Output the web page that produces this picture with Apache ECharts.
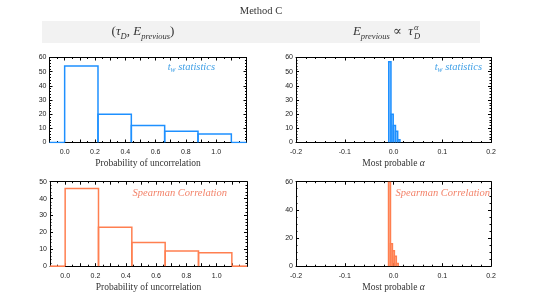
<!DOCTYPE html>
<html><head><meta charset="utf-8">
<script src="https://cdn.jsdelivr.net/npm/echarts@6/dist/echarts.min.js"></script>
<style>html,body{margin:0;padding:0;background:#fff}#c{width:543px;height:305px}</style>
</head><body><div id="c"></div>
<script>
// ---- data ----
const probEdges = [0, 0.22, 0.44, 0.66, 0.88, 1.10];
const twProbCounts = [54, 20, 12, 8, 6];
const spProbCounts = [46, 23, 14, 9, 8];
const probRange = [-0.1, 1.2];

const twAlphaEdges = [-0.0098, -0.0052, -0.0006, 0.0040, 0.0086, 0.0132];
const twAlphaCounts = [57, 20, 12, 8, 2];
const spAlphaEdges = [-0.0102, -0.0062, -0.0022, 0.0018, 0.0058, 0.0098];
const spAlphaCounts = [60, 16, 11, 7, 2];
const alphaRange = [-0.2, 0.2];

const blue = '#1E90FF', blueText = '#3F9FE6', blueFill = 'rgba(30,144,255,0.45)';
const orange = '#FF7F50', orangeText = '#F3836A', orangeFill = 'rgba(255,127,80,0.5)';
const serif = "'Liberation Serif', 'DejaVu Serif', serif";
const sans = "'Liberation Sans', 'DejaVu Sans', sans-serif";

function bins(edges, counts) {
  return counts.map((c, i) => [edges[i], edges[i + 1], c]);
}

const grids = [
  {left: 49.5, top: 57.5, width: 197, height: 85},
  {left: 296, top: 57.5, width: 195, height: 85},
  {left: 50, top: 181.7, width: 197, height: 84.5},
  {left: 296, top: 181.7, width: 195, height: 84.5}
];
grids.forEach(g => g.outerBoundsMode = 'none');

const axLine = {show: true, onZero: false, lineStyle: {color: '#000', width: 1}};
function xAx(gi, kind, pos) {
  const isProb = kind === 'prob';
  const a = {
    type: 'value', gridIndex: gi, position: pos,
    min: isProb ? probRange[0] : alphaRange[0],
    max: isProb ? probRange[1] : alphaRange[1],
    interval: 0.1,
    axisLine: axLine,
    axisTick: {show: true, inside: true, length: 3, lineStyle: {color: '#000'}},
    minorTick: {show: true, splitNumber: isProb ? 2 : 5, length: 1.5, lineStyle: {color: '#000'}},
    splitLine: {show: false},
    axisLabel: {show: pos === 'bottom', fontSize: 7, fontFamily: sans, color: '#222', margin: 6,
      formatter: v => {
        if (isProb) {
          const k = Math.round(v * 10);
          if (k < 0 || k > 10 || k % 2 !== 0) return '';
          return (k / 10).toFixed(1);
        }
        return (Math.round(v * 10) / 10).toFixed(1);
      }},
    showMinLabel: true, showMaxLabel: true
  };
  if (pos === 'bottom') {
    a.name = isProb ? 'Probability of uncorrelation' : '{n|Most probable }{i|α}';
    a.nameLocation = 'middle';
    a.nameGap = 16;
    a.nameTextStyle = {fontSize: 9.5, fontFamily: serif, color: '#333',
      rich: {n: {fontSize: 9.5, fontFamily: serif, color: '#333'},
             i: {fontSize: 9.5, fontFamily: serif, fontStyle: 'italic', color: '#333'}}};
  }
  return a;
}
function yAx(gi, max, interval, minor, pos) {
  return {
    type: 'value', gridIndex: gi, position: pos, min: 0, max: max, interval: interval,
    axisLine: axLine,
    axisTick: {show: true, inside: true, length: 3, lineStyle: {color: '#000'}},
    minorTick: {show: true, splitNumber: minor, length: 1.5, lineStyle: {color: '#000'}},
    splitLine: {show: false},
    axisLabel: {show: pos === 'left', fontSize: 7, fontFamily: sans, color: '#222', margin: 3}
  };
}

const xAxis = [
  xAx(0, 'prob', 'bottom'), xAx(0, 'prob', 'top'),
  xAx(1, 'alpha', 'bottom'), xAx(1, 'alpha', 'top'),
  xAx(2, 'prob', 'bottom'), xAx(2, 'prob', 'top'),
  xAx(3, 'alpha', 'bottom'), xAx(3, 'alpha', 'top')
];
const yAxis = [
  yAx(0, 60, 10, 5, 'left'), yAx(0, 60, 10, 5, 'right'),
  yAx(1, 60, 10, 5, 'left'), yAx(1, 60, 10, 5, 'right'),
  yAx(2, 50, 10, 5, 'left'), yAx(2, 50, 10, 5, 'right'),
  yAx(3, 60, 20, 4, 'left'), yAx(3, 60, 20, 4, 'right')
];

function histSeries(idx, data, color, fillColor) {
  return {
    type: 'custom', xAxisIndex: idx * 2, yAxisIndex: idx * 2, data: data, clip: true, z: 5,
    encode: {x: [0, 1], y: 2}, animation: false, silent: true,
    renderItem: (params, api) => {
      const x0 = api.value(0), x1 = api.value(1), c = api.value(2);
      const pts = [api.coord([x0, 0]), api.coord([x0, c]), api.coord([x1, c]), api.coord([x1, 0])];
      const children = [];
      if (fillColor) children.push({type: 'polygon', shape: {points: pts}, style: {fill: fillColor}});
      children.push({type: 'polyline', shape: {points: pts}, style: {stroke: color, lineWidth: 1.5, fill: null}});
      return {type: 'group', children: children};
    }
  };
}
function baseSeries(idx, from, to, color) {
  return {type: 'line', xAxisIndex: idx * 2, yAxisIndex: idx * 2, data: [[from, 0], [to, 0]],
    showSymbol: false, symbol: 'none', animation: false, silent: true, z: 5,
    lineStyle: {color: color, width: 1.6}};
}
const series = [
  histSeries(0, bins(probEdges, twProbCounts), blue, null),
  baseSeries(0, probRange[0], probEdges[0], blue),
  baseSeries(0, probEdges[probEdges.length - 1], probRange[1], blue),
  histSeries(1, bins(twAlphaEdges, twAlphaCounts), blue, blueFill),
  histSeries(2, bins(probEdges, spProbCounts), orange, null),
  baseSeries(2, probRange[0], probEdges[0], orange),
  baseSeries(2, probEdges[probEdges.length - 1], probRange[1], orange),
  histSeries(3, bins(spAlphaEdges, spAlphaCounts), orange, orangeFill)
];

function inset(x, y, parts, color) {
  return {type: 'text', x: x, y: y, style: {
    text: parts, align: 'right', verticalAlign: 'middle',
    rich: {
      i: {fontSize: 10.5, fontFamily: serif, fontStyle: 'italic', fill: color, lineHeight: 14},
      s: {fontSize: 7.5, fontFamily: serif, fontStyle: 'italic', fill: color, verticalAlign: 'bottom', lineHeight: 10}
    }}};
}
const hdrRich = {
  n: {fontSize: 13, fontFamily: serif, fontStyle: 'italic', fill: '#333', lineHeight: 19},
  r: {fontSize: 13, fontFamily: serif, fill: '#333', lineHeight: 19},
  s: {fontSize: 8.5, fontFamily: serif, fontStyle: 'italic', fill: '#333', verticalAlign: 'bottom', lineHeight: 12}
};

const graphic = [
  {type: 'rect', shape: {x: 42, y: 21, width: 438, height: 22}, style: {fill: '#f2f2f2'}, z: -1},
  {type: 'text', x: 261, y: 11, style: {text: 'Method C', fontSize: 10.5, fontFamily: serif, fill: '#333', align: 'center', verticalAlign: 'middle'}},
  {type: 'text', x: 143, y: 32, style: {text: '{r|(}{n|τ}{s|D}{r|, }{n|E}{s|previous}{r|)}', align: 'center', verticalAlign: 'middle', rich: hdrRich}},
  {type: 'text', x: 413, y: 32, style: {text: '{n|E}{s|previous}{r| ∝  }{n|τ}', align: 'right', verticalAlign: 'middle', rich: hdrRich}},
  {type: 'text', x: 414, y: 28, style: {text: 'α', fontSize: 8.5, fontFamily: serif, fontStyle: 'italic', fill: '#333', align: 'left', verticalAlign: 'middle'}},
  {type: 'text', x: 414, y: 37, style: {text: 'D', fontSize: 8.5, fontFamily: serif, fontStyle: 'italic', fill: '#333', align: 'left', verticalAlign: 'middle'}},
  inset(215, 67, '{i|t}{s|w}{i| statistics}', blueText),
  inset(482, 67, '{i|t}{s|w}{i| statistics}', blueText),
  inset(227, 193, '{i|Spearman Correlation}', orangeText),
  inset(490, 193, '{i|Spearman Correlation}', orangeText)
];

const chart = echarts.init(document.getElementById('c'), null, {renderer: 'canvas'});
chart.setOption({
  animation: false,
  backgroundColor: '#fff',
  grid: grids, xAxis: xAxis, yAxis: yAxis, series: series, graphic: graphic
});
</script></body></html>
